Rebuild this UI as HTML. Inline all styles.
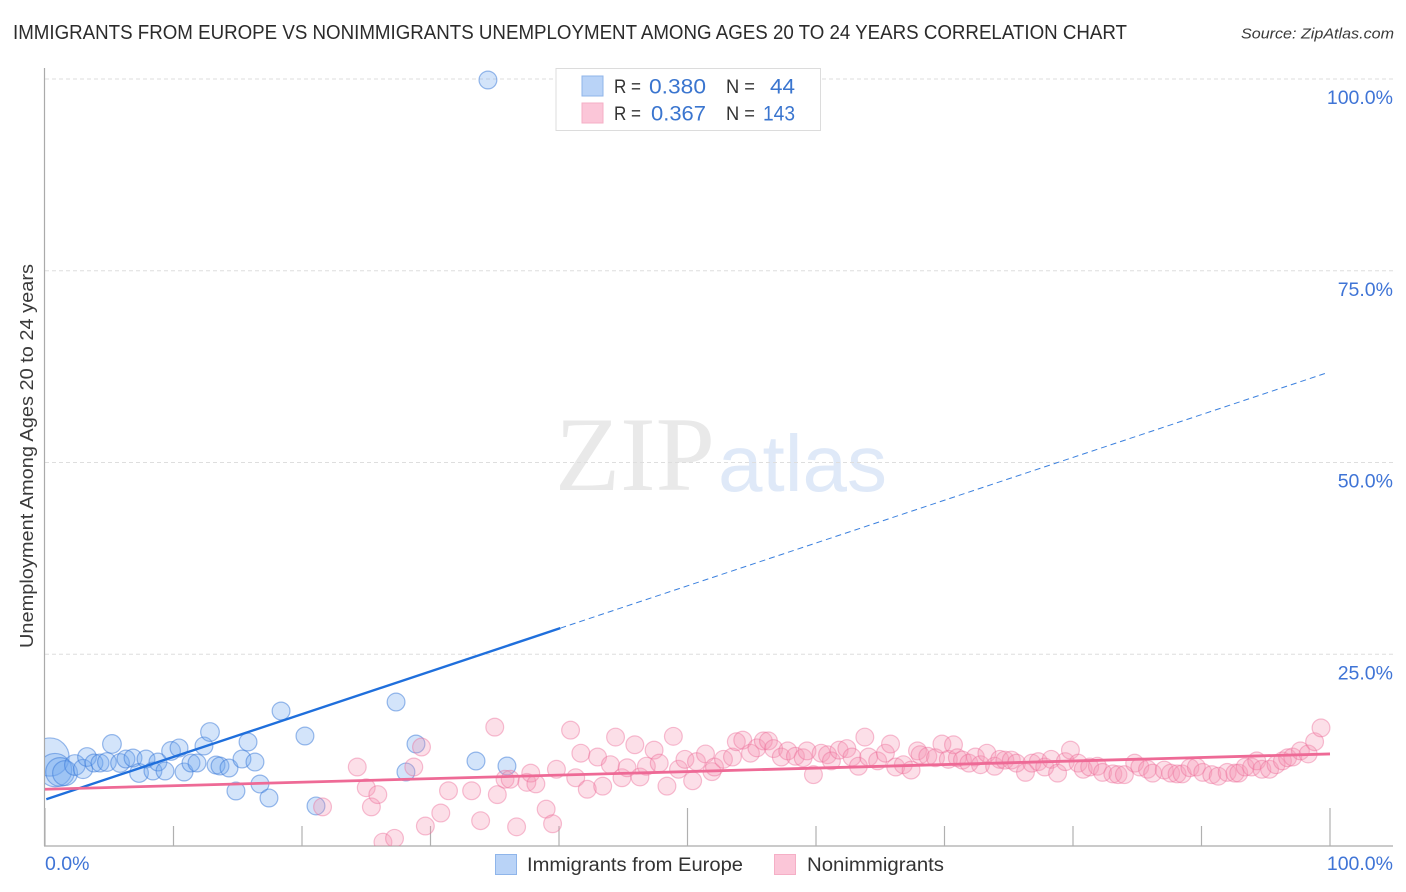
<!DOCTYPE html>
<html lang="en">
<head>
<meta charset="utf-8">
<title>Immigrants from Europe vs Nonimmigrants Unemployment Correlation Chart</title>
<style>
html,body{margin:0;padding:0;background:#fff;width:1406px;height:892px;overflow:hidden}
svg{display:block;font-family:"Liberation Sans",sans-serif}
</style>
</head>
<body>
<svg id="chart" xmlns="http://www.w3.org/2000/svg" width="1406" height="892" viewBox="0 0 1406 892">
  <defs><clipPath id="plot-clip"><rect x="45" y="60" width="1350" height="786"/></clipPath></defs>
  <rect width="1406" height="892" fill="#fff"/>
  <text x="13" y="39" font-size="20" fill="#2b2b2b" textLength="1114" lengthAdjust="spacingAndGlyphs">IMMIGRANTS FROM EUROPE VS NONIMMIGRANTS UNEMPLOYMENT AMONG AGES 20 TO 24 YEARS CORRELATION CHART</text>
  <text x="1241" y="38.5" font-size="15" font-style="italic" fill="#3a3a3a" textLength="153" lengthAdjust="spacingAndGlyphs">Source: ZipAtlas.com</text>
  <text x="555" y="490" font-family="'Liberation Serif',serif" font-size="106" fill="#e9e9e9" textLength="160" lengthAdjust="spacingAndGlyphs">ZIP</text>
  <text x="718" y="491" font-size="80" fill="#dfe9f8" textLength="169" lengthAdjust="spacingAndGlyphs">atlas</text>
  <g id="grid"></g>
  <g id="axes"></g>
  <g id="points" clip-path="url(#plot-clip)"></g>
  <g id="trends"></g>
  <g id="tick-labels"></g>
  <text transform="translate(33,456) rotate(-90)" text-anchor="middle" font-size="18" fill="#3a3a3a" textLength="384" lengthAdjust="spacingAndGlyphs">Unemployment Among Ages 20 to 24 years</text>

  <g>
    <rect x="556" y="68.5" width="264.5" height="62" fill="#fff" stroke="#dcdcdc"/>
    <rect x="582" y="76" width="21" height="20" fill="#b9d3f7" stroke="#8fb5ea"/>
    <rect x="582" y="103" width="21" height="20" fill="#fbc6d8" stroke="#f5afc6"/>
    <g font-size="21">
      <text x="614" y="93" fill="#333" font-size="19" textLength="27" lengthAdjust="spacingAndGlyphs">R =</text>
      <text x="649" y="93.5" fill="#3a75cf" textLength="57" lengthAdjust="spacingAndGlyphs">0.380</text>
      <text x="726" y="93" fill="#333" font-size="19" textLength="29" lengthAdjust="spacingAndGlyphs">N =</text>
      <text x="770" y="93.5" fill="#3a75cf" textLength="25" lengthAdjust="spacingAndGlyphs">44</text>
      <text x="614" y="120" fill="#333" font-size="19" textLength="27" lengthAdjust="spacingAndGlyphs">R =</text>
      <text x="651" y="120.5" fill="#3a75cf" textLength="55" lengthAdjust="spacingAndGlyphs">0.367</text>
      <text x="726" y="120" fill="#333" font-size="19" textLength="29" lengthAdjust="spacingAndGlyphs">N =</text>
      <text x="763" y="120.5" fill="#3a75cf" textLength="32" lengthAdjust="spacingAndGlyphs">143</text>
    </g>
  </g>

  <g>
    <rect x="495.5" y="854.5" width="21" height="20" fill="#b9d3f7" stroke="#8fb5ea"/>
    <text x="527" y="871" font-size="19" fill="#333" textLength="216" lengthAdjust="spacingAndGlyphs">Immigrants from Europe</text>
    <rect x="774.5" y="854.5" width="21" height="20" fill="#fbc6d8" stroke="#f5afc6"/>
    <text x="807" y="871" font-size="19" fill="#333" textLength="137" lengthAdjust="spacingAndGlyphs">Nonimmigrants</text>
  </g>
</svg>
<script>
var europeX = [34.47,0.39,0.78,1.17,1.56,2.33,2.96,3.27,3.81,4.28,4.82,5.21,5.84,6.3,6.85,7.32,7.86,8.4,8.79,9.34,9.81,10.43,10.82,11.36,11.83,12.37,12.84,13.31,13.62,14.32,15.33,15.8,16.34,16.73,14.86,17.43,18.37,20.23,21.09,27.32,28.87,28.09,33.54,35.95];
var europeY = [99.87,11.6,9.9,9.65,9.5,10.56,10.04,11.6,10.82,10.82,10.95,13.3,10.82,11.34,11.47,9.52,11.34,9.78,10.95,9.78,12.39,12.78,9.65,10.82,10.82,13.04,14.86,10.56,10.43,10.17,11.34,13.56,10.95,8.08,7.17,6.26,17.6,14.34,5.22,18.77,13.3,9.65,11.08,10.43];
var europeWeight = [1,4.6,3.5,2.6,1.95,1.35,1.15,1.1,1,1,1.1,1.1,1.1,1,1,1.1,1,1,1,1,1.1,1,1,1,1,1,1.1,1,1,1,1,1,1,1,1,1,1,1,1,1,1,1,1,1];
var nonimmigrantsX = [21.6,24.3,25.0,25.4,25.9,26.3,27.2,28.7,29.3,29.6,30.8,31.4,33.2,33.9,35.0,35.2,35.8,36.2,36.7,37.5,37.8,38.2,39.0,39.5,39.8,40.9,41.3,41.7,42.2,43.0,43.4,44.0,44.4,44.9,45.3,45.9,46.3,46.8,47.4,47.8,48.4,48.9,49.3,49.8,50.4,50.7,51.4,51.9,52.1,52.8,53.5,53.8,54.3,54.9,55.4,55.9,56.3,56.7,57.3,57.8,58.4,59.0,59.3,59.8,60.4,60.9,61.2,61.8,62.4,62.8,63.3,63.8,64.1,64.8,65.4,65.8,66.2,66.8,67.4,67.9,68.1,68.7,69.3,69.8,70.3,70.7,71.0,71.4,71.9,72.4,72.8,73.3,73.9,74.3,74.7,75.2,75.6,76.3,76.8,77.3,77.8,78.3,78.8,79.4,79.8,80.4,80.8,81.3,81.9,82.3,83.1,83.5,84.0,84.8,85.2,85.8,86.2,87.1,87.6,88.1,88.5,89.1,89.6,90.1,90.8,91.3,92.0,92.6,92.9,93.4,93.9,94.3,94.7,95.3,95.8,96.3,96.7,97.1,97.7,98.3,98.8,99.3];
var nonimmigrantsY = [5.1,10.3,7.6,5.1,6.7,0.5,1.0,10.3,12.9,2.6,4.3,7.2,7.2,3.3,15.5,6.7,8.7,8.7,2.5,8.3,9.5,8.1,4.8,2.9,10.0,15.1,8.9,12.1,7.4,11.6,7.8,10.6,14.2,8.9,10.2,13.2,9.0,10.4,12.5,10.8,7.8,14.3,10.0,11.3,8.5,11.0,12.0,9.7,10.3,11.3,11.6,13.6,13.8,12.1,12.8,13.7,13.7,12.7,11.6,12.4,11.7,11.5,12.4,9.3,12.1,11.9,11.1,12.5,12.7,11.6,10.4,14.2,11.6,11.1,12.1,13.3,10.3,10.6,9.9,12.4,11.9,11.7,11.5,13.3,11.3,13.2,11.5,11.2,10.8,11.6,10.6,12.1,10.4,11.3,11.2,11.2,10.8,9.6,10.8,11.0,10.3,11.3,9.5,11.0,12.5,10.8,10.0,10.3,10.4,9.6,9.4,9.3,9.3,10.8,10.3,10.0,9.5,9.9,9.5,9.4,9.4,10.2,10.3,9.6,9.3,9.1,9.6,9.5,9.5,10.3,10.3,11.1,10.0,10.0,10.6,11.1,11.5,11.6,12.4,12.0,13.6,15.4];
var europeTrendSolidX = [0.1,40.1];
var europeTrendSolidY = [6.1,28.4];
var europeTrendDashedX = [40.1,99.6];
var europeTrendDashedY = [28.4,61.6];
var nonimmigrantsTrendX = [0,100];
var nonimmigrantsTrendY = [7.4,12.0];
var yTicks = [25,50,75,100];
var yTickLabels = ["25.0%","50.0%","75.0%","100.0%"];
var xTicks = [0,10,20,30,40,50,60,70,80,90,100];
var xEndTickLabels = ["0.0%","100.0%"];

var NS = 'http://www.w3.org/2000/svg';
function xScale(v){ return 45 + v * 12.85; }
function yScale(v){ return 846 - v * 7.67; }
function make(tag, attrs, parent){
  var el = document.createElementNS(NS, tag);
  for (var k in attrs) el.setAttribute(k, attrs[k]);
  parent.appendChild(el);
  return el;
}
var grid = document.getElementById('grid');
var axes = document.getElementById('axes');
var points = document.getElementById('points');
var trends = document.getElementById('trends');
var labels = document.getElementById('tick-labels');

yTicks.forEach(function(t, i){
  var y = yScale(t);
  var line = make('line', {x1:45, x2:1393, y1:y, y2:y, stroke:'#dedede', 'stroke-width':1, 'stroke-dasharray':'4 3'}, grid);
  
  
  var label = make('text', {x:1393, y:y + 25, 'text-anchor':'end', 'font-size':19.5, fill:'#3f74d6'}, labels);
  
  
  label.textContent = yTickLabels[i];
});

var yAxis = make('line', {x1:44.5, x2:44.5, y1:68, y2:846, stroke:'#aaa', 'stroke-width':1.2}, axes);


var xAxis = make('line', {x1:44, x2:1393, y1:846, y2:846, stroke:'#aaa', 'stroke-width':1.2}, axes);



xTicks.forEach(function(t){
  var major = t % 50 === 0;
  var x = xScale(t);
  var tick = make('line', {x1:x, x2:x, y1:major ? 808 : 826, y2:846, stroke:'#b0b0b0', 'stroke-width':1.2}, axes);
  
  
});

var xLabelStart = make('text', {x:xScale(0), y:870, 'font-size':19.5, fill:'#3f74d6'}, labels);


xLabelStart.textContent = xEndTickLabels[0];
var xLabelEnd = make('text', {x:1393, y:870, 'text-anchor':'end', 'font-size':19.5, fill:'#3f74d6'}, labels);


xLabelEnd.textContent = xEndTickLabels[1];

europeX.forEach(function(v, i){
  var c = make('circle', {cx:xScale(v), cy:yScale(europeY[i]), r:8.9 * Math.sqrt(europeWeight[i]), fill:'rgba(110,165,238,0.3)', stroke:'rgba(55,120,215,0.5)', 'stroke-width':1.2}, points);
  
  
});
nonimmigrantsX.forEach(function(v, i){
  var c = make('circle', {cx:xScale(v), cy:yScale(nonimmigrantsY[i]), r:8.9, fill:'rgba(245,150,180,0.3)', stroke:'rgba(235,105,150,0.42)', 'stroke-width':1.2}, points);
  
  
});

var solid = make('line', {x1:xScale(europeTrendSolidX[0]), y1:yScale(europeTrendSolidY[0]), x2:xScale(europeTrendSolidX[1]), y2:yScale(europeTrendSolidY[1]), stroke:'#1f6fdc', 'stroke-width':2.4}, trends);


var dashed = make('line', {x1:xScale(europeTrendDashedX[0]), y1:yScale(europeTrendDashedY[0]), x2:xScale(europeTrendDashedX[1]), y2:yScale(europeTrendDashedY[1]), stroke:'#3b80de', 'stroke-width':1, 'stroke-dasharray':'6 4'}, trends);


var pinkLine = make('line', {x1:xScale(nonimmigrantsTrendX[0]), y1:yScale(nonimmigrantsTrendY[0]), x2:xScale(nonimmigrantsTrendX[1]), y2:yScale(nonimmigrantsTrendY[1]), stroke:'#ee6a96', 'stroke-width':2.8}, trends);


</script>
</body>
</html>
